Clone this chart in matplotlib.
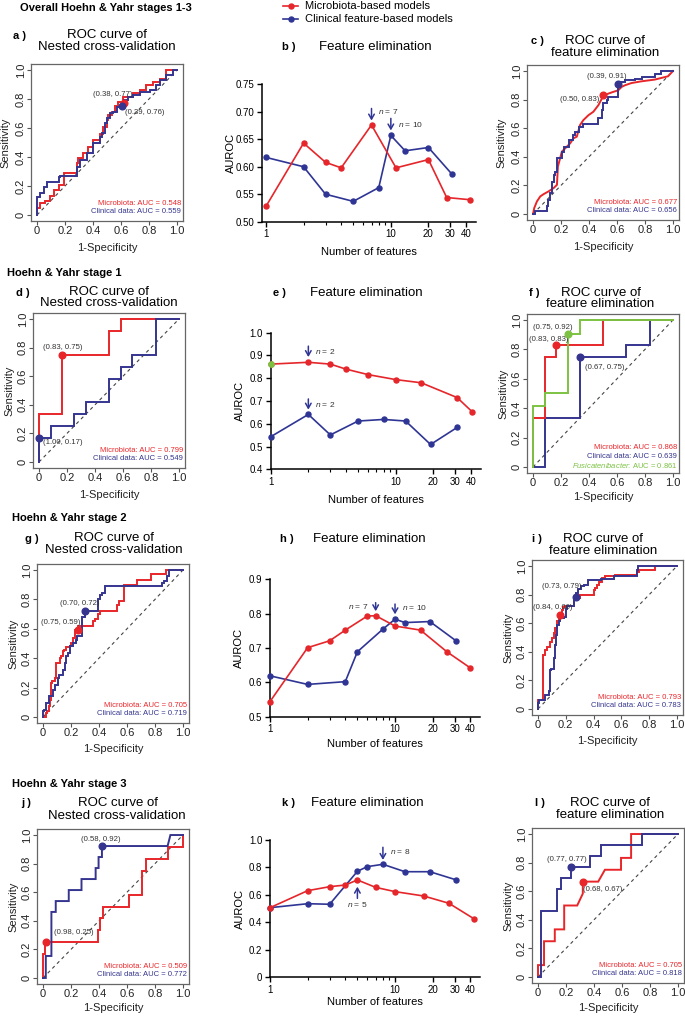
import matplotlib
matplotlib.use('Agg')
import matplotlib.pyplot as plt
from matplotlib.lines import Line2D
import numpy as np

plt.rcParams['font.family'] = ['Liberation Sans', 'DejaVu Sans']
plt.rcParams['mathtext.fontset'] = 'custom'
plt.rcParams['mathtext.rm'] = 'Liberation Sans'
plt.rcParams['mathtext.it'] = 'Liberation Sans:italic'

# ---------------- DATA ----------------
roc_ticks = [0, 0.2, 0.4, 0.6, 0.8, 1.0]
roc_tick_labels = ['0', '0.2', '0.4', '0.6', '0.8', '1.0']

# a) overall, nested CV
a_mic_fpr = [0, 0.024, 0.059, 0.095, 0.12, 0.154, 0.19, 0.225, 0.284, 0.296, 0.33, 0.367, 0.40, 0.45, 0.47, 0.50, 0.51, 0.533, 0.557, 0.58, 0.616, 0.687, 0.735, 0.78, 0.83, 0.877, 0.924, 1.0]
a_mic_tpr = [0, 0.046, 0.08, 0.10, 0.13, 0.17, 0.21, 0.29, 0.29, 0.36, 0.39, 0.425, 0.47, 0.52, 0.56, 0.61, 0.655, 0.69, 0.71, 0.75, 0.78, 0.816, 0.84, 0.86, 0.90, 0.92, 0.94, 1.0]
a_cli_fpr = [0, 0, 0.024, 0.047, 0.071, 0.083, 0.154, 0.166, 0.284, 0.308, 0.355, 0.40, 0.45, 0.462, 0.486, 0.498, 0.521, 0.545, 0.569, 0.604, 0.62, 0.649, 0.687, 0.735, 0.806, 0.853, 0.877, 0.924, 0.972, 1.0]
a_cli_tpr = [0, 0.057, 0.126, 0.149, 0.195, 0.23, 0.23, 0.264, 0.269, 0.333, 0.379, 0.425, 0.494, 0.54, 0.563, 0.632, 0.667, 0.701, 0.713, 0.747, 0.76, 0.793, 0.816, 0.828, 0.851, 0.862, 0.897, 0.931, 0.966, 1.0]
a_mic_pt = (0.62, 0.775)
a_cli_pt = (0.61, 0.755)
a_auc = ['Microbiota: AUC = 0.548', 'Clinical data: AUC = 0.559']

# c) overall, feature elimination
c_mic_fpr = [0, 0.009, 0.028, 0.052, 0.076, 0.111, 0.147, 0.171, 0.178, 0.206, 0.230, 0.265, 0.289, 0.313, 0.336, 0.360, 0.396, 0.431, 0.467, 0.502, 0.538, 0.573, 0.609, 0.633, 0.656, 0.704, 0.775, 0.869, 0.964, 1.0]
c_mic_tpr = [0, 0.042, 0.088, 0.123, 0.139, 0.158, 0.181, 0.204, 0.332, 0.436, 0.459, 0.494, 0.529, 0.541, 0.622, 0.657, 0.691, 0.715, 0.761, 0.826, 0.842, 0.854, 0.865, 0.889, 0.900, 0.916, 0.928, 0.940, 0.963, 1.0]
c_cli_fpr = [0, 0.017, 0.040, 0.099, 0.107, 0.123, 0.135, 0.147, 0.159, 0.171, 0.178, 0.206, 0.218, 0.254, 0.289, 0.301, 0.325, 0.336, 0.360, 0.396, 0.467, 0.491, 0.502, 0.526, 0.538, 0.550, 0.609, 0.616, 0.656, 0.727, 0.775, 0.869, 0.917, 0.964, 1.0]
c_cli_tpr = [0, 0, 0.019, 0.019, 0.053, 0.100, 0.146, 0.227, 0.274, 0.297, 0.390, 0.390, 0.436, 0.471, 0.517, 0.552, 0.575, 0.610, 0.610, 0.629, 0.629, 0.668, 0.726, 0.773, 0.796, 0.819, 0.819, 0.907, 0.923, 0.935, 0.944, 0.958, 0.981, 1.0, 1.0]
c_mic_pt = (0.50, 0.83)
c_cli_pt = (0.61, 0.91)
c_auc = ['Microbiota: AUC = 0.677', 'Clinical data: AUC = 0.656']

# d) stage 1, nested CV
d_mic_fpr = [0, 0, 0.167, 0.167, 0.5, 0.5, 0.583, 0.583, 1.0]
d_mic_tpr = [0, 0.333, 0.333, 0.75, 0.75, 0.917, 0.917, 1.0, 1.0]
d_cli_fpr = [0, 0, 0.083, 0.083, 0.25, 0.25, 0.333, 0.333, 0.5, 0.5, 0.583, 0.583, 0.667, 0.667, 0.833, 0.833, 1.0]
d_cli_tpr = [0, 0.167, 0.167, 0.25, 0.25, 0.333, 0.333, 0.417, 0.417, 0.583, 0.583, 0.667, 0.667, 0.75, 0.75, 1.0, 1.0]
d_mic_pt = (0.167, 0.75)
d_cli_pt = (0.0, 0.167)
d_auc = ['Microbiota: AUC = 0.799', 'Clinical data: AUC = 0.549']

# f) stage 1, feature elimination
f_mic_fpr = [0, 0, 0.083, 0.083, 0.167, 0.167, 0.5, 0.5, 1.0]
f_mic_tpr = [0, 0.333, 0.333, 0.75, 0.75, 0.833, 0.833, 1.0, 1.0]
f_cli_fpr = [0, 0.083, 0.083, 0.333, 0.333, 0.667, 0.667, 0.833, 0.833, 1.0]
f_cli_tpr = [0, 0, 0.333, 0.333, 0.75, 0.75, 0.833, 0.833, 1.0, 1.0]
f_fus_fpr = [0, 0, 0.083, 0.083, 0.25, 0.25, 0.333, 0.333, 1.0]
f_fus_tpr = [0, 0.417, 0.417, 0.5, 0.5, 0.905, 0.905, 1.0, 1.0]
f_mic_pt = (0.167, 0.833)
f_cli_pt = (0.333, 0.75)
f_fus_pt = (0.25, 0.905)
f_auc = ['Microbiota: AUC = 0.868', 'Clinical data: AUC = 0.639', 'Fusicatenibacter: AUC = 0.861']

# g) stage 2, nested CV
g_mic_fpr = [0, 0.024, 0.029, 0.043, 0.048, 0.06, 0.067, 0.084, 0.091, 0.096, 0.12, 0.132, 0.144, 0.148, 0.167, 0.191, 0.203, 0.215, 0.23, 0.25, 0.27, 0.36, 0.37, 0.39, 0.41, 0.43, 0.53, 0.54, 0.56, 0.58, 0.59, 0.67, 0.68, 0.77, 0.78, 0.88, 0.90, 1.0]
g_mic_tpr = [0, 0, 0.027, 0.038, 0.072, 0.118, 0.231, 0.242, 0.265, 0.344, 0.367, 0.401, 0.412, 0.446, 0.457, 0.475, 0.484, 0.502, 0.54, 0.59, 0.62, 0.62, 0.65, 0.67, 0.70, 0.72, 0.72, 0.76, 0.79, 0.79, 0.90, 0.90, 0.93, 0.93, 0.97, 0.97, 1.0, 1.0]
g_cli_fpr = [0, 0.005, 0.024, 0.043, 0.053, 0.072, 0.084, 0.108, 0.115, 0.144, 0.156, 0.167, 0.179, 0.191, 0.215, 0.239, 0.244, 0.275, 0.282, 0.299, 0.306, 0.39, 0.395, 0.407, 0.419, 0.443, 0.478, 0.85, 0.862, 0.885, 0.897, 0.91, 1.0]
g_cli_tpr = [0, 0.038, 0.05, 0.095, 0.14, 0.145, 0.186, 0.219, 0.265, 0.287, 0.321, 0.367, 0.412, 0.434, 0.48, 0.502, 0.525, 0.548, 0.593, 0.683, 0.72, 0.72, 0.78, 0.80, 0.827, 0.845, 0.89, 0.89, 0.91, 0.925, 0.96, 1.0, 1.0]
g_mic_pt = (0.25, 0.59)
g_cli_pt = (0.30, 0.72)
g_auc = ['Microbiota: AUC = 0.705', 'Clinical data: AUC = 0.719']

# i) stage 2, feature elimination
i_mic_fpr = [0, 0, 0.034, 0.034, 0.053, 0.065, 0.089, 0.101, 0.113, 0.125, 0.137, 0.149, 0.153, 0.173, 0.177, 0.197, 0.257, 0.264, 0.305, 0.317, 0.401, 0.408, 0.424, 0.436, 0.460, 0.484, 0.508, 0.556, 0.568, 0.712, 0.724, 0.844, 0.856, 1.0]
i_mic_tpr = [0, 0.065, 0.065, 0.379, 0.379, 0.414, 0.437, 0.472, 0.495, 0.53, 0.565, 0.612, 0.651, 0.651, 0.693, 0.716, 0.72, 0.762, 0.774, 0.798, 0.798, 0.833, 0.844, 0.868, 0.891, 0.914, 0.93, 0.93, 0.937, 0.937, 0.96, 0.972, 1.0, 1.0]
i_cli_fpr = [0, 0.005, 0.017, 0.053, 0.077, 0.089, 0.094, 0.113, 0.125, 0.132, 0.137, 0.149, 0.161, 0.168, 0.185, 0.20, 0.21, 0.26, 0.27, 0.29, 0.31, 0.33, 0.36, 0.37, 0.45, 0.55, 0.71, 0.72, 0.74, 1.0]
i_cli_tpr = [0, 0.042, 0.065, 0.065, 0.10, 0.123, 0.274, 0.279, 0.356, 0.449, 0.519, 0.589, 0.612, 0.635, 0.635, 0.64, 0.70, 0.72, 0.786, 0.81, 0.84, 0.86, 0.87, 0.90, 0.90, 0.91, 0.93, 0.97, 1.0, 1.0]
i_mic_pt = (0.155, 0.655)
i_cli_pt = (0.27, 0.786)
i_auc = ['Microbiota: AUC = 0.793', 'Clinical data: AUC = 0.783']

# j) stage 3, nested CV
j_mic_fpr = [0, 0, 0.017, 0.017, 0.39, 0.39, 0.41, 0.41, 0.43, 0.43, 0.615, 0.615, 0.71, 0.71, 0.734, 0.734, 0.89, 0.89, 1.0, 1.0]
j_mic_tpr = [0, 0.167, 0.167, 0.25, 0.25, 0.333, 0.333, 0.417, 0.417, 0.5, 0.5, 0.583, 0.583, 0.75, 0.75, 0.833, 0.833, 0.917, 0.917, 1.0]
j_cli_fpr = [0, 0.02, 0.02, 0.06, 0.06, 0.091, 0.091, 0.184, 0.184, 0.275, 0.275, 0.376, 0.376, 0.397, 0.397, 0.421, 0.421, 0.89, 0.91, 1.0]
j_cli_tpr = [0, 0, 0.154, 0.154, 0.462, 0.462, 0.538, 0.538, 0.615, 0.615, 0.692, 0.692, 0.769, 0.769, 0.846, 0.846, 0.923, 0.923, 1.0, 1.0]
j_mic_pt = (0.02, 0.25)
j_cli_pt = (0.421, 0.923)
j_auc = ['Microbiota: AUC = 0.509', 'Clinical data: AUC = 0.772']

# l) stage 3, feature elimination
l_mic_fpr = [0, 0, 0.043, 0.043, 0.12, 0.12, 0.187, 0.187, 0.28, 0.32, 0.32, 0.43, 0.478, 0.593, 0.593, 0.665, 0.665, 1.0]
l_mic_tpr = [0, 0.083, 0.083, 0.25, 0.25, 0.333, 0.333, 0.5, 0.5, 0.583, 0.667, 0.667, 0.75, 0.75, 0.833, 0.833, 1.0, 1.0]
l_cli_fpr = [0, 0.024, 0.024, 0.139, 0.139, 0.163, 0.163, 0.239, 0.239, 0.371, 0.371, 0.447, 0.447, 0.746, 0.746, 1.0]
l_cli_tpr = [0, 0, 0.462, 0.462, 0.615, 0.615, 0.692, 0.692, 0.769, 0.769, 0.846, 0.846, 0.923, 0.923, 1.0, 1.0]
l_mic_pt = (0.32, 0.667)
l_cli_pt = (0.239, 0.769)
l_auc = ['Microbiota: AUC = 0.705', 'Clinical data: AUC = 0.818']

# Feature elimination series
b_mic_n = [1, 2, 3, 4, 7, 11, 20, 28, 43]
b_mic_auc = [0.528, 0.643, 0.608, 0.598, 0.676, 0.598, 0.613, 0.544, 0.540]
b_cli_n = [1, 2, 3, 5, 8, 10, 13, 20, 31]
b_cli_auc = [0.617, 0.600, 0.550, 0.537, 0.562, 0.657, 0.629, 0.635, 0.586]

e_mic_n = [1, 2, 3, 4, 6, 10, 16, 31, 41]
e_mic_auc = [0.862, 0.870, 0.862, 0.840, 0.816, 0.794, 0.780, 0.715, 0.652]
e_cli_n = [1, 2, 3, 5, 8, 12, 19, 31]
e_cli_auc = [0.543, 0.641, 0.551, 0.612, 0.619, 0.612, 0.509, 0.584]
e_fus_n = [1]
e_fus_auc = [0.862]

h_mic_n = [1, 2, 3, 4, 6, 7, 10, 16, 26, 40]
h_mic_auc = [0.544, 0.701, 0.721, 0.752, 0.793, 0.794, 0.764, 0.752, 0.689, 0.642]
h_cli_n = [1, 2, 4, 5, 8, 10, 12, 19, 31]
h_cli_auc = [0.619, 0.594, 0.602, 0.689, 0.755, 0.784, 0.774, 0.777, 0.720]

k_mic_n = [1, 2, 3, 4, 5, 7, 10, 17, 27, 43]
k_mic_auc = [0.507, 0.631, 0.660, 0.672, 0.709, 0.655, 0.624, 0.592, 0.539, 0.425]
k_cli_n = [1, 2, 3, 5, 6, 8, 12, 19, 31]
k_cli_auc = [0.507, 0.536, 0.532, 0.772, 0.806, 0.823, 0.769, 0.769, 0.709]

fe_major_ticks = [1, 10, 20, 30, 40]
fe_major_labels = ['1', '10', '20', '30', '40']

# ---------------- STYLE ----------------
W, H = 685, 1016
RED = '#E8262A'
BLUE = '#35358F'
PRED = '#E5262B'
PBLUE = '#2F3594'
GREEN = '#7CC242'

fig = plt.figure(figsize=(W / 100, H / 100), dpi=100)


def rect(l, t, r, b):
    return [l / W, 1 - b / H, (r - l) / W, (b - t) / H]


def ftext(x, y, s, **kw):
    kw.setdefault('ha', 'center')
    kw.setdefault('va', 'center')
    fig.text(x / W, 1 - y / H, s, **kw)


def roc_panel(box, curves, points, ann, aucs, auc_colors, auc_y, ylab_x, xlab_y):
    ax = fig.add_axes(rect(*box))
    ax.plot([0, 1], [0, 1], ls=(0, (3, 3)), color='#444444', lw=0.8)
    for fpr, tpr, col, ds in curves:
        ax.plot(fpr, tpr, color=col, lw=1.4, drawstyle=ds, solid_joinstyle='miter')
    for (px, py), col in points:
        ax.plot([px], [py], 'o', color=col, ms=4.8, zorder=5)
    for (tx, ty, s) in ann:
        ax.text(tx, ty, s, fontsize=5.6, color='#333333', ha='center', va='center')
    for s, col, yy in zip(aucs, auc_colors, auc_y):
        if s.startswith('Fusicatenibacter'):
            ax.text(1.03, yy, r'$\it{Fusicatenibacter}$' + s[len('Fusicatenibacter'):],
                    fontsize=5.5, color=col, ha='right', va='center')
        else:
            ax.text(1.03, yy, s, fontsize=5.5, color=col, ha='right', va='center')
    ax.set_xlim(-0.04, 1.04)
    ax.set_ylim(-0.04, 1.04)
    ax.set_xticks(roc_ticks)
    ax.set_xticklabels(roc_tick_labels, fontsize=8)
    ax.set_yticks(roc_ticks)
    ax.set_yticklabels(roc_tick_labels, fontsize=8, rotation=90, va='center')
    ax.tick_params(length=2.8, width=0.8, color='#555555', pad=1.0, labelcolor='#222222')
    for sp in ax.spines.values():
        sp.set_color('#666666')
        sp.set_linewidth(0.9)
    cx = (box[0] + box[2]) / 2
    cy = (box[1] + box[3]) / 2
    ftext(ylab_x, cy, 'Sensitivity', fontsize=8, rotation=90, color='#222222')
    ftext(cx, xlab_y, '1-Specificity', fontsize=8, color='#222222')
    return ax


def fe_panel(box, xlim, ylim, yticks, ylabels, series, arrows, ylab_x, xlab_y):
    ax = fig.add_axes(rect(*box))
    ax.set_xscale('log')
    for n, auc, col in series:
        ax.plot(n, auc, '-o', color=col, lw=1.2, ms=3.6, clip_on=False, zorder=3)
    for (x, yt, yh, s, side, ty) in arrows:
        ax.annotate('', xy=(x, yh), xytext=(x, yt),
                    arrowprops=dict(arrowstyle='->,head_length=0.35,head_width=0.2',
                                    color=PBLUE, lw=1.1, shrinkA=0, shrinkB=0))
        if side == 'right':
            ax.annotate(s, xy=(x, ty), xytext=(5, 0), textcoords='offset points',
                        fontsize=6, ha='left', va='center', color='#333333')
        elif side == 'left':
            ax.annotate(s, xy=(x, ty), xytext=(-5, 0), textcoords='offset points',
                        fontsize=6, ha='right', va='center', color='#333333')
        else:
            ax.annotate(s, xy=(x, ty), xytext=(0, 0), textcoords='offset points',
                        fontsize=6, ha='center', va='center', color='#333333')
    ax.set_xlim(*xlim)
    ax.set_ylim(*ylim)
    ax.set_xticks(fe_major_ticks)
    ax.set_xticklabels(fe_major_labels, fontsize=7)
    ax.set_xticks([2, 3, 4, 5, 6, 7, 8, 9], minor=True)
    ax.set_xticklabels([], minor=True)
    ax.set_yticks(yticks)
    ax.set_yticklabels(ylabels, fontsize=7)
    ax.tick_params(which='major', length=3.5, width=1.0, pad=2)
    ax.tick_params(which='minor', length=2.2, width=0.8)
    ax.spines['top'].set_visible(False)
    ax.spines['right'].set_visible(False)
    for s in ('left', 'bottom'):
        ax.spines[s].set_linewidth(1.1)
    cy = (box[1] + box[3]) / 2
    cx = (box[0] + box[2]) / 2
    ftext(ylab_x, cy, 'AUROC', fontsize=8, rotation=90)
    ftext(cx, xlab_y, 'Number of features', fontsize=8)
    return ax


def nlab(v):
    return r'$\it{n}$ = ' + str(v)

# ---------------- HEADINGS / LEGEND ----------------
ftext(20, 8, 'Overall Hoehn & Yahr stages 1-3', fontsize=8, weight='bold', ha='left')
ftext(7, 273, 'Hoehn & Yahr stage 1', fontsize=8, weight='bold', ha='left')
ftext(12, 518, 'Hoehn & Yahr stage 2', fontsize=8, weight='bold', ha='left')
ftext(12, 784, 'Hoehn & Yahr stage 3', fontsize=8, weight='bold', ha='left')

for yy, col, lab in [(6, PRED, 'Microbiota-based models'), (19.3, PBLUE, 'Clinical feature-based models')]:
    fig.add_artist(Line2D([283 / W, 298 / W], [1 - yy / H, 1 - yy / H], color=col, lw=1.2))
    fig.add_artist(Line2D([290.5 / W], [1 - yy / H], marker='o', ms=3.6, color=col))
    ftext(305, yy, lab, fontsize=8, ha='left')

# ---------------- PANEL TITLES ----------------
ftext(13, 36, 'a )', fontsize=8, weight='bold', ha='left')
ftext(107, 35, 'ROC curve of', fontsize=9.5)
ftext(107, 46.7, 'Nested cross-validation', fontsize=9.5)
ftext(282, 46.7, 'b )', fontsize=8, weight='bold', ha='left')
ftext(375.5, 46.7, 'Feature elimination', fontsize=9.5)
ftext(531, 40.7, 'c )', fontsize=8, weight='bold', ha='left')
ftext(605, 40.7, 'ROC curve of', fontsize=9.5)
ftext(605, 52.7, 'feature elimination', fontsize=9.5)

ftext(16, 293, 'd )', fontsize=8, weight='bold', ha='left')
ftext(109, 291.7, 'ROC curve of', fontsize=9.5)
ftext(109, 303.3, 'Nested cross-validation', fontsize=9.5)
ftext(273, 292.7, 'e )', fontsize=8, weight='bold', ha='left')
ftext(366, 292.7, 'Feature elimination', fontsize=9.5)
ftext(529, 293.3, 'f )', fontsize=8, weight='bold', ha='left')
ftext(601, 292.7, 'ROC curve of', fontsize=9.5)
ftext(600, 304.3, 'feature elimination', fontsize=9.5)

ftext(25, 539, 'g )', fontsize=8, weight='bold', ha='left')
ftext(114, 537.7, 'ROC curve of', fontsize=9.5)
ftext(113.5, 550, 'Nested cross-validation', fontsize=9.5)
ftext(280, 539.3, 'h )', fontsize=8, weight='bold', ha='left')
ftext(369, 539.3, 'Feature elimination', fontsize=9.5)
ftext(531.7, 539.3, 'i )', fontsize=8, weight='bold', ha='left')
ftext(603, 539, 'ROC curve of', fontsize=9.5)
ftext(603, 550.7, 'feature elimination', fontsize=9.5)

ftext(21.7, 803.3, 'j )', fontsize=8, weight='bold', ha='left')
ftext(117.5, 803.3, 'ROC curve of', fontsize=9.5)
ftext(117.2, 816, 'Nested cross-validation', fontsize=9.5)
ftext(281.7, 802.7, 'k )', fontsize=8, weight='bold', ha='left')
ftext(367, 802.7, 'Feature elimination', fontsize=9.5)
ftext(535, 803.3, 'l )', fontsize=8, weight='bold', ha='left')
ftext(610, 803.3, 'ROC curve of', fontsize=9.5)
ftext(610, 815, 'feature elimination', fontsize=9.5)

# ---------------- ROC PANELS ----------------
auc_y2 = [0.08, 0.022]
roc_panel((31.4, 64.2, 182.6, 220.8),
          [(a_mic_fpr, a_mic_tpr, RED, 'steps-pre'), (a_cli_fpr, a_cli_tpr, BLUE, 'steps-pre')],
          [(a_mic_pt, RED), (a_cli_pt, BLUE)],
          [(0.54, 0.83, '(0.38, 0.77)'), (0.77, 0.71, '(0.39, 0.76)')],
          a_auc, [RED, BLUE], auc_y2, 5, 248)

roc_panel((527.4, 65.3, 678.6, 219.7),
          [(c_mic_fpr, c_mic_tpr, RED, 'default'), (c_cli_fpr, c_cli_tpr, BLUE, 'steps-pre')],
          [(c_mic_pt, RED), (c_cli_pt, BLUE)],
          [(0.53, 0.96, '(0.39, 0.91)'), (0.33, 0.80, '(0.50, 0.83)')],
          c_auc, [RED, BLUE], auc_y2, 501, 247)

roc_panel((33.4, 313.3, 184.6, 467.7),
          [(d_mic_fpr, d_mic_tpr, RED, 'default'), (d_cli_fpr, d_cli_tpr, BLUE, 'default')],
          [(d_mic_pt, RED), (d_cli_pt, BLUE)],
          [(0.17, 0.80, '(0.83, 0.75)'), (0.17, 0.135, '(1.00, 0.17)')],
          d_auc, [RED, BLUE], auc_y2, 9, 495)

roc_panel((527.4, 314.1, 678.6, 472.9),
          [(f_cli_fpr, f_cli_tpr, BLUE, 'default'), (f_mic_fpr, f_mic_tpr, RED, 'default'),
           (f_fus_fpr, f_fus_tpr, GREEN, 'default')],
          [(f_mic_pt, RED), (f_cli_pt, BLUE), (f_fus_pt, GREEN)],
          [(0.14, 0.95, '(0.75, 0.92)'), (0.11, 0.865, '(0.83, 0.83)'), (0.51, 0.675, '(0.67, 0.75)')],
          f_auc, [RED, BLUE, GREEN], [0.13, 0.072, 0.012], 503, 497)

roc_panel((37.4, 564.1, 188.6, 722.9),
          [(g_mic_fpr, g_mic_tpr, RED, 'steps-pre'), (g_cli_fpr, g_cli_tpr, BLUE, 'steps-pre')],
          [(g_mic_pt, RED), (g_cli_pt, BLUE)],
          [(0.26, 0.775, '(0.70, 0.72)'), (0.127, 0.64, '(0.75, 0.59)')],
          g_auc, [RED, BLUE], auc_y2, 13, 749)

roc_panel((532.4, 560.3, 682.6, 714.7),
          [(i_mic_fpr, i_mic_tpr, RED, 'steps-pre'), (i_cli_fpr, i_cli_tpr, BLUE, 'steps-pre')],
          [(i_mic_pt, RED), (i_cli_pt, BLUE)],
          [(0.17, 0.856, '(0.73, 0.79)'), (0.105, 0.712, '(0.84, 0.66)')],
          i_auc, [RED, BLUE], auc_y2, 508, 741)

roc_panel((37.4, 829.3, 188.6, 983.7),
          [(j_mic_fpr, j_mic_tpr, RED, 'default'), (j_cli_fpr, j_cli_tpr, BLUE, 'default')],
          [(j_mic_pt, RED), (j_cli_pt, BLUE)],
          [(0.41, 0.972, '(0.58, 0.92)'), (0.218, 0.316, '(0.98, 0.25)')],
          j_auc, [RED, BLUE], auc_y2, 13, 1008)

roc_panel((532.4, 828.3, 683.6, 982.7),
          [(l_mic_fpr, l_mic_tpr, RED, 'default'), (l_cli_fpr, l_cli_tpr, BLUE, 'default')],
          [(l_mic_pt, RED), (l_cli_pt, BLUE)],
          [(0.205, 0.823, '(0.77, 0.77)'), (0.466, 0.614, '(0.68, 0.67)')],
          l_auc, [RED, BLUE], auc_y2, 508, 1008)

# ---------------- FEATURE ELIMINATION PANELS ----------------
fe_panel((262, 84.3, 475.9, 221.7), (0.929, 48), (0.50, 0.75),
         [0.50, 0.55, 0.60, 0.65, 0.70, 0.75], ['0.50', '0.55', '0.60', '0.65', '0.70', '0.75'],
         [(b_cli_n, b_cli_auc, PBLUE), (b_mic_n, b_mic_auc, PRED)],
         [(7, 0.706, 0.684, nlab(7), 'right', 0.701), (10, 0.688, 0.666, nlab(10), 'right', 0.676)],
         231, 252)

ax_e = fe_panel((270.7, 332.7, 480.9, 469.3), (1, 48), (0.4, 1.0),
                [0.4, 0.5, 0.6, 0.7, 0.8, 0.9, 1.0], ['0.4', '0.5', '0.6', '0.7', '0.8', '0.9', '1.0'],
                [(e_cli_n, e_cli_auc, PBLUE), (e_mic_n, e_mic_auc, PRED)],
                [(2, 0.941, 0.893, nlab(2), 'right', 0.919), (2, 0.709, 0.662, nlab(2), 'right', 0.686)],
                240, 500)
ax_e.plot(e_fus_n, e_fus_auc, 'o', color=GREEN, ms=3.8, clip_on=False, zorder=4)

fe_panel((270, 579.3, 480.2, 716.7), (1, 48), (0.5, 0.9),
         [0.5, 0.6, 0.7, 0.8, 0.9], ['0.5', '0.6', '0.7', '0.8', '0.9'],
         [(h_cli_n, h_cli_auc, PBLUE), (h_mic_n, h_mic_auc, PRED)],
         [(7, 0.832, 0.807, nlab(7), 'left', 0.822), (10, 0.828, 0.798, nlab(10), 'right', 0.817)],
         239, 744)

fe_panel((270, 840, 480.2, 977.3), (1, 48), (0, 1.0),
         [0, 0.2, 0.4, 0.6, 0.8, 1.0], ['0', '0.2', '0.4', '0.6', '0.8', '1.0'],
         [(k_cli_n, k_cli_auc, PBLUE), (k_mic_n, k_mic_auc, PRED)],
         [(8, 0.947, 0.855, nlab(8), 'right', 0.915), (5, 0.575, 0.66, nlab(5), 'center', 0.53)],
         240, 1002)

fig.savefig('out.png', dpi=100)
